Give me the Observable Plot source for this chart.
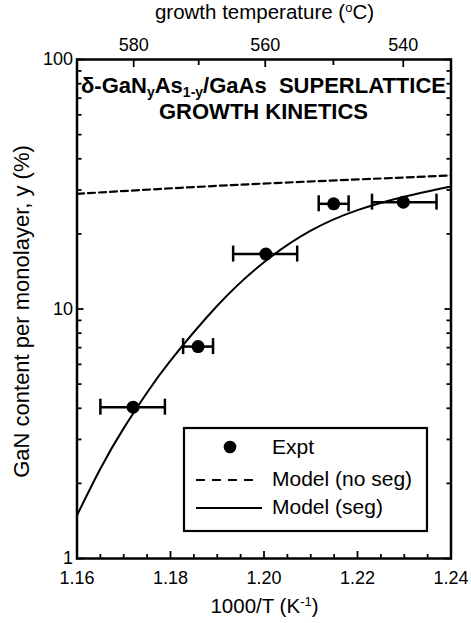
<!DOCTYPE html>
<html><head><meta charset="utf-8">
<script src="https://cdn.jsdelivr.net/npm/d3@7"></script>
<script src="https://cdn.jsdelivr.net/npm/@observablehq/plot@0.6"></script>
<style>body{margin:0;background:#fff;} svg{display:block}</style>
</head><body><div id="chart"></div>
<script>
// ---- data ----
const exptX   = [1.1720, 1.1859, 1.2004, 1.2149, 1.2298];
const exptY   = [4.04, 7.07, 16.6, 26.4, 26.8];
const exptXLo = [1.1650, 1.1827, 1.1934, 1.2117, 1.2231];
const exptXHi = [1.1788, 1.1891, 1.2071, 1.2181, 1.2369];

const noSegX = [1.16, 1.1821, 1.2035, 1.2249, 1.24];
const noSegY = [28.95, 30.6, 32.05, 33.35, 34.3];

const segX = [1.16, 1.165, 1.17, 1.175, 1.18, 1.19, 1.20, 1.21, 1.22, 1.23, 1.24];
const segY = [1.49, 2.29, 3.33, 4.63, 6.21, 10.3, 15.4, 20.6, 24.9, 28.2, 31.0];

// ticks
const xMajor = [1.16, 1.18, 1.20, 1.22, 1.24];
const xMajorLabels = ["1.16", "1.18", "1.20", "1.22", "1.24"];
const xMinor = [1.165, 1.17, 1.175, 1.185, 1.19, 1.195, 1.205, 1.21, 1.215, 1.225, 1.23, 1.235];
const yMajor = [1, 10, 100];
const yMajorLabels = ["1", "10", "100"];
const yMinor = [2, 3, 4, 5, 6, 7, 8, 9, 20, 30, 40, 50, 60, 70, 80, 90];
const topMajorT = [580, 560, 540];
const topMajorLabels = ["580", "560", "540"];
const topMinorT = [570, 550];

const legendLabels = ["Expt", "Model (no seg)", "Model (seg)"];

// ---- build ----
const FONT = "'Liberation Sans', Arial, Helvetica, sans-serif";
const W = 471, H = 623, ML = 76.5, MR = 20.5, MT = 59, MB = 65;
const invT = t => 1000 / (t + 273.15);

const expt = exptX.map((x, i) => ({x, y: exptY[i], lo: exptXLo[i], hi: exptXHi[i]}));
const noSeg = noSegX.map((x, i) => ({x, y: noSegY[i]}));
const seg = segX.map((x, i) => ({x, y: segY[i]}));

const blank = () => "";
const tickOpts = {tickFormat: blank, label: null, strokeWidth: 1.8};

const fig = Plot.plot({
  width: W, height: H,
  marginLeft: ML, marginRight: MR, marginTop: MT, marginBottom: MB,
  style: {fontFamily: FONT, background: "#fff", color: "#000", overflow: "visible"},
  x: {type: "linear", domain: [1.16, 1.24]},
  y: {type: "log", domain: [1, 100]},
  marks: [
    // inward ticks
    Plot.axisX(xMinor, {...tickOpts, anchor: "bottom", tickSize: 4, dy: -4}),
    Plot.axisX(xMajor, {...tickOpts, anchor: "bottom", tickSize: 7, dy: -7}),
    Plot.axisX(topMinorT.map(invT), {...tickOpts, anchor: "top", tickSize: 5, dy: 5}),
    Plot.axisX(topMajorT.map(invT), {...tickOpts, anchor: "top", tickSize: 7, dy: 7}),
    Plot.axisY(yMinor, {...tickOpts, anchor: "left", tickSize: 5, dx: 5}),
    Plot.axisY(yMajor, {...tickOpts, anchor: "left", tickSize: 7, dx: 7}),
    Plot.axisY(yMinor, {...tickOpts, anchor: "right", tickSize: 5, dx: -5}),
    Plot.axisY(yMajor, {...tickOpts, anchor: "right", tickSize: 7, dx: -7}),
    // tick labels
    Plot.text(xMajor, {x: d => d, text: (d, i) => xMajorLabels[i], frameAnchor: "bottom", lineAnchor: "top", dy: 13, fontSize: 18}),
    Plot.text(yMajor, {y: d => d, text: (d, i) => yMajorLabels[i], frameAnchor: "left", textAnchor: "end", dx: -4, fontSize: 18}),
    Plot.text(topMajorT, {x: invT, text: (d, i) => topMajorLabels[i], frameAnchor: "top", lineAnchor: "bottom", dy: -9, fontSize: 18}),
    // model curves
    Plot.line(noSeg, {x: "x", y: "y", stroke: "#000", strokeWidth: 2.2, strokeDasharray: "7,4", curve: "natural"}),
    Plot.line(seg, {x: "x", y: "y", stroke: "#000", strokeWidth: 2, curve: "natural"}),
    // error bars
    Plot.ruleY(expt, {y: "y", x1: "lo", x2: "hi", stroke: "#000", strokeWidth: 2.5}),
    Plot.ruleX(expt, {x: "lo", y1: "y", y2: "y", insetTop: -8, insetBottom: -8, stroke: "#000", strokeWidth: 2.5}),
    Plot.ruleX(expt, {x: "hi", y1: "y", y2: "y", insetTop: -8, insetBottom: -8, stroke: "#000", strokeWidth: 2.5}),
    Plot.dot(expt, {x: "x", y: "y", r: 6.5, fill: "#000", stroke: null}),
    Plot.frame({stroke: "#000", strokeWidth: 2.5})
  ]
});
document.getElementById("chart").appendChild(fig);

// ---- titles & legend ----
const svg = d3.select(fig);
const cx = (ML + (W - MR)) / 2;
const g = svg.append("g").attr("font-family", FONT).attr("fill", "#000");

// top axis title
const tt = g.append("text").attr("x", cx + 1).attr("y", 19).attr("text-anchor", "middle").attr("font-size", 20.5);
tt.append("tspan").text("growth temperature (");
tt.append("tspan").attr("dy", -7).attr("font-size", 13).text("o");
tt.append("tspan").attr("dy", 7).text("C)");

// bottom axis title
const bt = g.append("text").attr("x", cx + 1).attr("y", 613).attr("text-anchor", "middle").attr("font-size", 20.5);
bt.append("tspan").text("1000/T (K");
bt.append("tspan").attr("dy", -7).attr("font-size", 13).text("-1");
bt.append("tspan").attr("dy", 7).text(")");

// y axis title
g.append("text").attr("transform", `translate(29,${(MT + H - MB) / 2 + 3}) rotate(-90)`)
  .attr("text-anchor", "middle").attr("font-size", 22).text("GaN content per monolayer, y (%)");

// in-plot title
const p1 = g.append("text").attr("x", cx).attr("y", 93).attr("text-anchor", "middle")
  .attr("font-size", 22).attr("font-weight", "bold");
p1.append("tspan").text("δ-GaN");
p1.append("tspan").attr("dy", 4).attr("font-size", 14).text("y");
p1.append("tspan").attr("dy", -4).text("As");
p1.append("tspan").attr("dy", 4).attr("font-size", 14).text("1-y");
p1.append("tspan").attr("dy", -4).text("/GaAs\u00A0 SUPERLATTICE");
g.append("text").attr("x", cx).attr("y", 119).attr("text-anchor", "middle")
  .attr("font-size", 22).attr("font-weight", "bold").text("GROWTH KINETICS");

// legend
const lg = g.append("g");
lg.append("rect").attr("x", 184).attr("y", 428).attr("width", 243).attr("height", 103)
  .attr("fill", "#fff").attr("stroke", "#000").attr("stroke-width", 2.2);
lg.append("circle").attr("cx", 230).attr("cy", 447).attr("r", 6.3).attr("fill", "#000");
lg.append("line").attr("x1", 196).attr("x2", 253).attr("y1", 480).attr("y2", 480)
  .attr("stroke", "#000").attr("stroke-width", 2.2).attr("stroke-dasharray", "9,7");
lg.append("line").attr("x1", 196).attr("x2", 262).attr("y1", 508).attr("y2", 508)
  .attr("stroke", "#000").attr("stroke-width", 2);
[447, 479, 507].forEach((y, i) => {
  lg.append("text").attr("x", 272).attr("y", y).attr("dy", "0.35em").attr("text-anchor", "start")
    .attr("font-size", 21).text(legendLabels[i]);
});
</script>
</body></html>
